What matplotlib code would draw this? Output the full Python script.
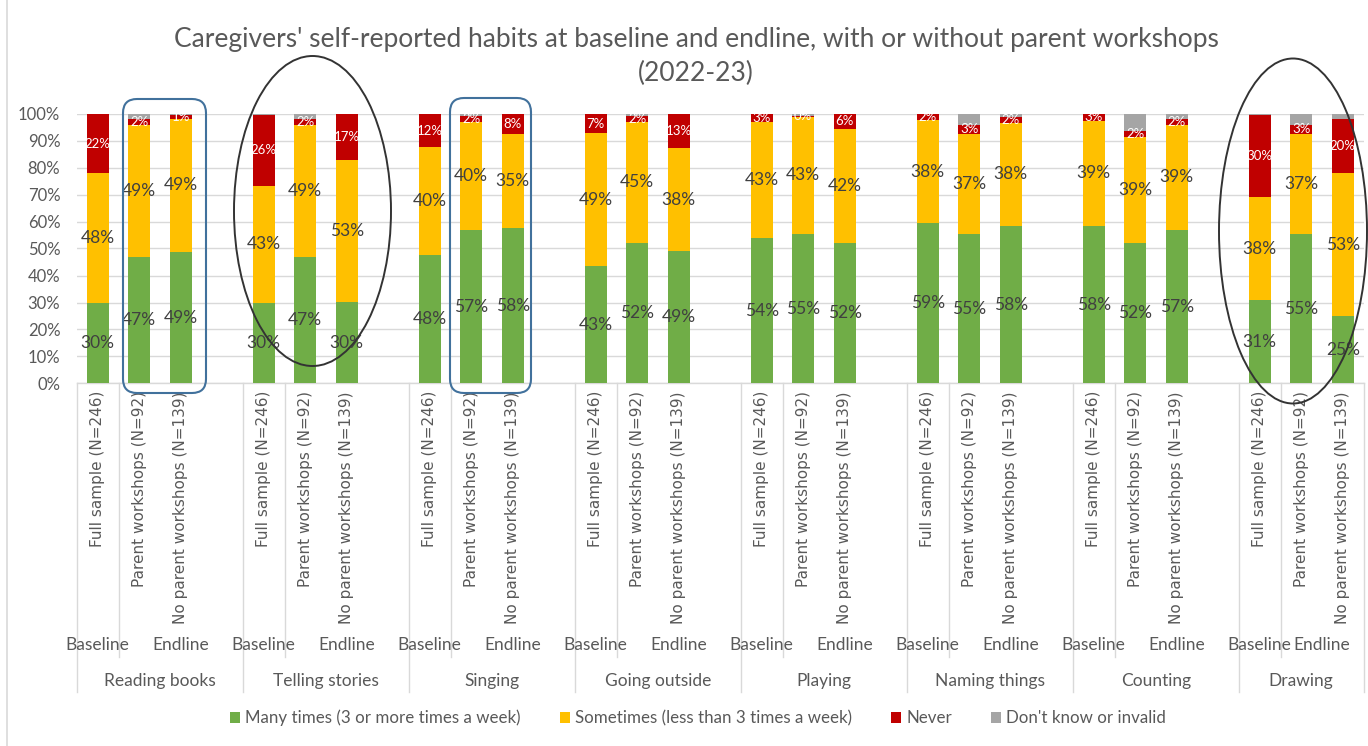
import matplotlib
matplotlib.use("Agg")
import matplotlib.pyplot as plt
from matplotlib.patches import Ellipse, FancyBboxPatch, Patch
from matplotlib.lines import Line2D
import numpy as np

# ---------------- data ----------------
groups = ["Reading books", "Telling stories", "Singing", "Going outside",
          "Playing", "Naming things", "Counting", "Drawing"]
samples = ["Full sample (N=246)", "Parent workshops (N=92)", "No parent workshops (N=139)"]
phases = ["Baseline", "Endline"]

many = [29.7, 46.7, 48.8, 29.8, 46.7, 30.1, 47.6, 56.7, 57.6, 43.4, 51.9, 48.9,
        54.0, 55.4, 52.0, 59.4, 55.4, 58.3, 58.3, 52.2, 56.9, 31.0, 55.4, 25.0]
sometimes = [48.2, 49.0, 49.2, 43.4, 49.0, 52.7, 39.9, 40.2, 34.8, 49.3, 45.1, 38.2,
             43.0, 43.4, 42.3, 38.2, 37.1, 38.3, 39.0, 39.2, 38.8, 38.0, 37.1, 52.9]
never = [21.9, 2.3, 1.4, 26.4, 2.3, 16.9, 12.4, 2.2, 7.6, 7.0, 2.2, 12.9,
         3.0, 0.2, 5.7, 2.4, 3.4, 2.2, 2.7, 2.2, 2.3, 30.4, 3.4, 20.1]
dont_know = [0.2, 2.0, 0.6, 0.4, 2.0, 0.3, 0.1, 0.9, 0.0, 0.3, 0.8, 0.0,
             0.0, 1.0, 0.0, 0.0, 4.1, 1.2, 0.0, 6.4, 2.0, 0.6, 4.1, 2.0]

series_names = ["Many times (3 or more times a week)",
                "Sometimes (less than 3 times a week)",
                "Never", "Don't know or invalid"]
yticks = [0, 10, 20, 30, 40, 50, 60, 70, 80, 90, 100]
title_lines = ["Caregivers' self-reported habits at baseline and endline, with or without parent workshops",
               "(2022-23)"]

# ---------------- style ----------------
colors = ["#70AD47", "#FFC000", "#C00000", "#A5A5A5"]
TXT = "#595959"
GRID = "#D9D9D9"
FONT = "Lato"

W, H = 1368, 746
fig = plt.figure(figsize=(W / 100, H / 100), dpi=100)
L, R, T, B = 77, 1363.5, 113.5, 383.5
ax = fig.add_axes([L / W, 1 - B / H, (R - L) / W, (B - T) / H])

n_groups = len(groups)
n_slots = 4 * n_groups - 1
x = np.array([4 * g + s + 0.5 for g in range(n_groups) for s in range(len(samples))])

ax.set_xlim(0, n_slots)
ax.set_ylim(0, 100)

def px_to_data(px, py):
    return ((px - L) / (R - L) * n_slots, (B - py) / (B - T) * 100)

def ya(py):
    return (B - py) / (B - T)

# bars
series = [many, sometimes, never, dont_know]
bottom = np.zeros(len(x))
for k, vals in enumerate(series):
    vals = np.array(vals)
    ax.bar(x, vals, bottom=bottom, width=0.54, color=colors[k], zorder=3, linewidth=0)
    if k < 3:
        for xi, b, v in zip(x, bottom, vals):
            if k < 2:
                ax.text(xi, b + v / 2, f"{round(v)}%", ha="center", va="center",
                        fontsize=12.5, color="#404040", family=FONT, zorder=5)
            else:
                ax.text(xi, b + v / 2, f"{round(v)}%", ha="center", va="center",
                        fontsize=9.5, color="white", family=FONT, zorder=5)
    bottom = bottom + vals

# axes styling
ax.set_yticks(yticks)
ax.set_yticklabels([f"{t}%" for t in yticks], fontsize=12, color=TXT, family=FONT)
ax.tick_params(axis="y", length=0, pad=12)
ax.set_xticks([])
ax.yaxis.grid(True, color=GRID, linewidth=1, zorder=0)
ax.set_axisbelow(True)
for s in ["top", "right", "left"]:
    ax.spines[s].set_visible(False)
ax.spines["bottom"].set_color(GRID)
ax.spines["bottom"].set_linewidth(1)

# multi-level category axis
xt = ax.get_xaxis_transform()
for i, xi in enumerate(x):
    ax.text(xi, ya(391), samples[i % 3], rotation=90, ha="center", va="top",
            fontsize=11, color=TXT, family="DejaVu Sans", transform=xt)
for g in range(n_groups):
    start = 4 * g
    end = min(4 * g + 4, n_slots)
    ax.text(start + 0.5, ya(645), phases[0], ha="center", va="center",
            fontsize=12.5, color=TXT, family=FONT, transform=xt)
    ax.text((start + 1 + end) / 2, ya(645), phases[1], ha="center", va="center",
            fontsize=12.5, color=TXT, family=FONT, transform=xt)
    ax.text((start + end) / 2, ya(681), groups[g], ha="center", va="center",
            fontsize=12.5, color=TXT, family=FONT, transform=xt)
    ax.add_line(Line2D([start, start], [0, ya(692)], transform=xt, color=GRID,
                       lw=1, clip_on=False))
    ax.add_line(Line2D([start + 1, start + 1], [0, ya(657)], transform=xt, color=GRID,
                       lw=1, clip_on=False))
ax.add_line(Line2D([n_slots, n_slots], [0, ya(692)], transform=xt, color=GRID,
                   lw=1, clip_on=False))

# chart-area border (left edge visible)
fig.add_artist(Line2D([6.5 / W, 6.5 / W], [0, 1], color=GRID, lw=1.2))

# annotations: blue rounded boxes
aspect = (100 / (B - T)) / (n_slots / (R - L))
for (x0, x1, y0, y1) in [(123, 206, 99, 393), (450, 531, 98, 393)]:
    dx0, dy1 = px_to_data(x0, y0)
    dx1, dy0 = px_to_data(x1, y1)
    box = FancyBboxPatch((dx0, dy0), dx1 - dx0, dy1 - dy0,
                         boxstyle=f"round,pad=0,rounding_size={14 / (R - L) * n_slots}",
                         mutation_aspect=aspect, fill=False, ec="#41719C", lw=1.5,
                         clip_on=False, zorder=6)
    ax.add_patch(box)

# annotations: ellipses
for (cx, cy, w, h) in [(312.5, 211, 157, 310), (1293, 231, 148, 345)]:
    dcx, dcy = px_to_data(cx, cy)
    e = Ellipse((dcx, dcy), w / (R - L) * n_slots, h / (B - T) * 100, fill=False,
                ec="#333333", lw=1.4, clip_on=False, zorder=6)
    ax.add_patch(e)

# title
fig.text(696 / W, 1 - 39 / H, title_lines[0], ha="center", va="center", fontsize=19,
         color=TXT, family=FONT)
fig.text(696 / W, 1 - 73 / H, title_lines[1], ha="center", va="center", fontsize=19,
         color=TXT, family=FONT)

# legend
handles = [Patch(facecolor=c, edgecolor="none") for c in colors]
fig.legend(handles, series_names, loc="center", bbox_to_anchor=(698 / W, 1 - 718 / H),
           ncol=4, frameon=False, prop={"family": FONT, "size": 12.2},
           handlelength=0.6, handleheight=0.6, handletextpad=0.3, columnspacing=2.3,
           labelcolor=TXT)

fig.savefig("out.png", dpi=100)
